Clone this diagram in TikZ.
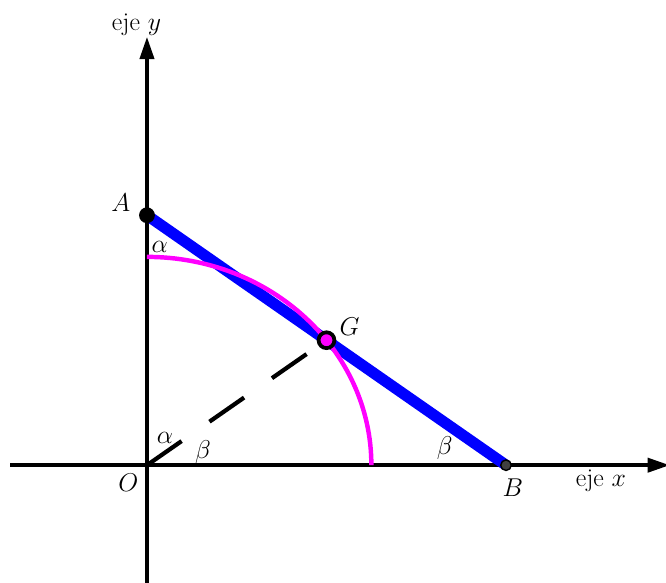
\RequirePackage{fix-cm}
\documentclass[tikz,border=0pt]{standalone}
\usepackage{tikz}
\usetikzlibrary{arrows.meta,positioning,calc}

\definecolor{arcmag}{RGB}{255,0,255}
\definecolor{rodblue}{RGB}{0,0,255}

\begin{document}
\begin{tikzpicture}[
  x=2.244cm, y=2.083cm,
  font=\fontsize{22}{26}\selectfont,
  axis/.style={line width=3.2pt, -{Triangle[length=19pt,width=12pt]}},
  rod/.style={line width=9.5pt, rodblue},
  arcline/.style={line width=3.8pt, arcmag},
  gline/.style={line width=3.6pt, dash pattern=on 36pt off 29pt},
  ptA/.style={circle, fill=black, inner sep=0pt, minimum size=13.5pt},
  ptB/.style={circle, draw=black, fill=black!75, line width=1.2pt,
              inner sep=0pt, minimum size=9pt},
  ptG/.style={circle, draw=black, fill=arcmag, line width=3.2pt,
              inner sep=0pt, minimum size=13.5pt},
  lbl/.style={inner sep=1pt},
]
\useasboundingbox (-1.965,-1.686) rectangle (6.939,6.70);

% points
\coordinate (O) at (0,0);
\coordinate (A) at (0,3.6);
\coordinate (B) at (4.8,0);
\coordinate (G) at ($(A)!0.5!(B)$);
\coordinate (P) at (3,0);

% axes
\coordinate (xmin) at (-1.83,0);
\coordinate (xmax) at (6.99,0);
\coordinate (ymin) at (0,-1.70);
\coordinate (ymax) at (0,6.17);
\draw[axis] (xmin) -- (xmax);
\draw[axis] (ymin) -- (ymax);

\draw[rod] (A) -- (B);
\draw[arcline] (P) arc[start angle=0, end angle=90, radius=3];
\draw[gline] (O) -- (G);

\node[ptA] (dotA) at (A) {};
\node[ptB] (dotB) at (B) {};
\node[ptG] (dotG) at (G) {};

% labels
\node[lbl] (labA) at (-0.35,3.78) {$A$};
\node[lbl] (labB) at (4.89,-0.33) {$B$};
\node[lbl] (labG) at (2.71,1.99) {$G$};
\node[lbl] (labO) at (-0.25,-0.245) {$O$};
\node[lbl] (alA) at (0.17,3.14) {$\alpha$};
\node[lbl] (alO) at (0.24,0.39) {$\alpha$};
\node[lbl] (beO) at (0.75,0.19) {$\beta$};
\node[lbl] (beB) at (3.98,0.245) {$\beta$};
\node[lbl] (ejex) at (6.07,-0.22) {eje $x$};
\node[lbl] (ejey) at (-0.14,6.34) {eje $y$};
\end{tikzpicture}
\end{document}
